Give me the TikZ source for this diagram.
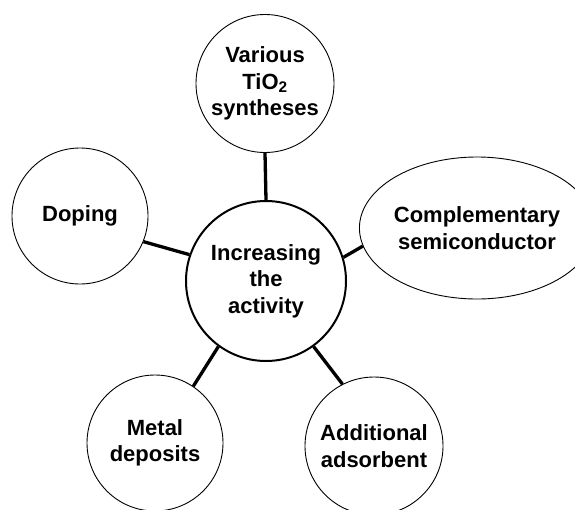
\documentclass[tikz,border=0pt]{standalone}
\usepackage{fontspec}
\setmainfont{Liberation Sans}
\usetikzlibrary{shapes.geometric}
\begin{document}
\begin{tikzpicture}[x=1pt,y=-1pt,
  lbl/.style={font=\fontsize{22}{26.5}\selectfont\bfseries, align=center, text=black},
  sat/.style={lbl, draw=black, line width=0.9pt, circle, inner sep=0pt},
  hub/.style={lbl, draw=black, line width=2pt, circle, inner sep=0pt, minimum size=160pt},
  link/.style={draw=black, line width=3.3pt}]
\useasboundingbox (0,0) rectangle (575,509);
\clip (0,0) rectangle (575,509);
\fill[white] (0,0) rectangle (575,509);
\node[hub] (hub) at (266,281) {Increasing\\the\\activity};
\node[sat, minimum size=138pt] (syn) at (265,83.5) {Various\\TiO\textsubscript{2}\\syntheses};
\node[sat, minimum size=136pt] (dop) at (80,216) {Doping};
\node[lbl, draw=black, line width=0.9pt, ellipse, inner sep=0pt, minimum width=191pt, minimum height=142pt] (comp) at (477,228) {Complementary\\semiconductor};
\node[sat, minimum size=136pt] (met) at (155,443) {Metal\\deposits};
\node[sat, minimum size=138pt] (ads) at (374,446) {Additional\\adsorbent};
\draw[link] (hub.north) -- (syn.south);
\draw[link] (hub.161.8) -- (dop.-22.4);
\draw[link] (hub.17.5) -- (comp.-171);
\draw[link] (hub.-126.3) -- (met.56.8);
\draw[link] (hub.-54.3) -- (ads.117);
\end{tikzpicture}
\end{document}
